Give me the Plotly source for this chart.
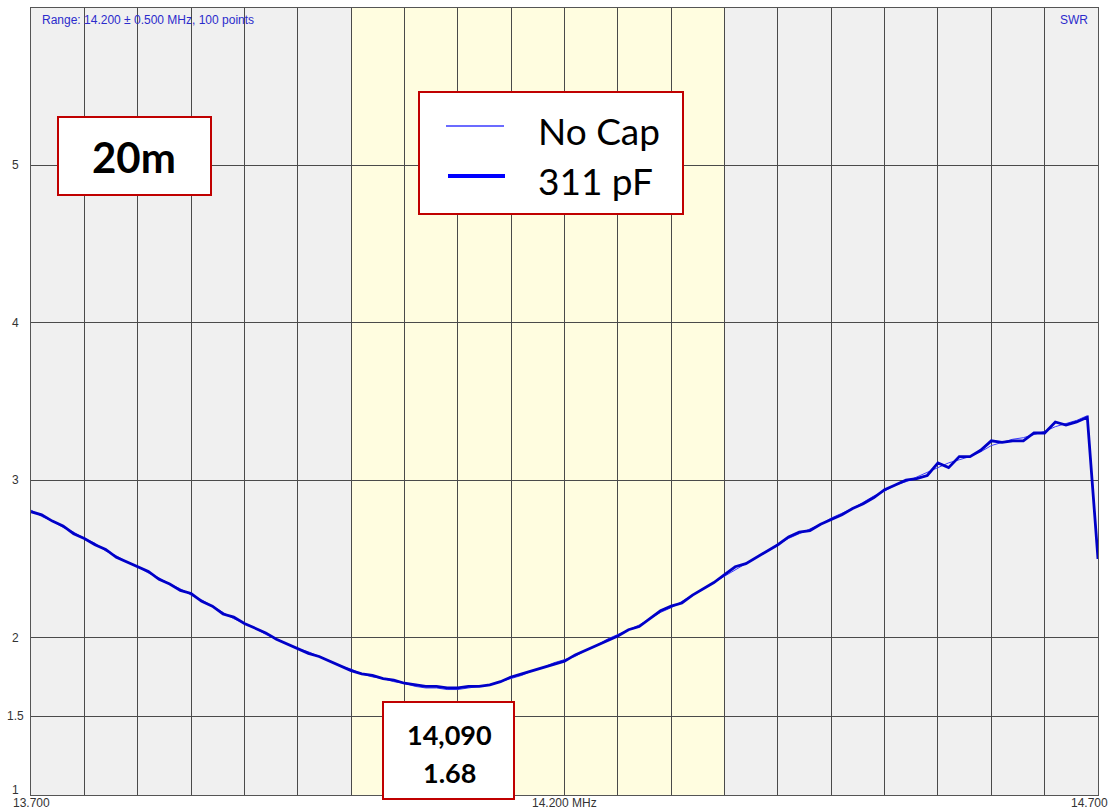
import plotly.graph_objects as go

# Sweep: 14.200 MHz centre, +/- 0.500 MHz, 0.01 MHz steps
freq_mhz = [round(13.70 + 0.01 * i, 2) for i in range(101)]

swr_no_cap = [
    2.81, 2.77, 2.74, 2.70, 2.67, 2.63, 2.60, 2.55, 2.52, 2.48,
    2.45, 2.41, 2.38, 2.34, 2.31, 2.27, 2.24, 2.20, 2.16, 2.12,
    2.09, 2.06, 2.02, 1.99, 1.96, 1.93, 1.91, 1.88, 1.85, 1.82,
    1.80, 1.77, 1.75, 1.74, 1.72, 1.71, 1.69, 1.68, 1.68, 1.67,
    1.67, 1.68, 1.69, 1.70, 1.72, 1.74, 1.76, 1.79, 1.81, 1.84,
    1.86, 1.88, 1.92, 1.95, 1.99, 2.02, 2.05, 2.08, 2.12, 2.16,
    2.19, 2.23, 2.27, 2.31, 2.35, 2.39, 2.43, 2.47, 2.51, 2.55,
    2.59, 2.63, 2.66, 2.69, 2.72, 2.76, 2.79, 2.82, 2.86, 2.90,
    2.93, 2.97, 2.99, 3.02, 3.05, 3.08, 3.11, 3.13, 3.15, 3.18,
    3.22, 3.24, 3.26, 3.27, 3.29, 3.31, 3.34, 3.36, 3.38, 3.41,
    2.51,
]

swr_311pf = [
    2.80, 2.78, 2.74, 2.71, 2.66, 2.63, 2.59, 2.56, 2.51, 2.48,
    2.45, 2.42, 2.37, 2.34, 2.30, 2.28, 2.23, 2.20, 2.15, 2.13,
    2.09, 2.06, 2.03, 1.99, 1.96, 1.93, 1.90, 1.88, 1.85, 1.82,
    1.79, 1.77, 1.76, 1.74, 1.73, 1.71, 1.70, 1.69, 1.69, 1.68,
    1.68, 1.69, 1.69, 1.70, 1.72, 1.75, 1.77, 1.79, 1.81, 1.83,
    1.85, 1.89, 1.92, 1.95, 1.98, 2.01, 2.05, 2.07, 2.12, 2.17,
    2.20, 2.22, 2.27, 2.31, 2.35, 2.40, 2.45, 2.47, 2.51, 2.55,
    2.59, 2.64, 2.67, 2.68, 2.72, 2.75, 2.78, 2.82, 2.85, 2.89,
    2.94, 2.97, 3.00, 3.01, 3.03, 3.11, 3.08, 3.15, 3.15, 3.19,
    3.25, 3.24, 3.25, 3.25, 3.30, 3.30, 3.37, 3.35, 3.37, 3.40,
    2.50,
]

series_names = ["No Cap", "311 pF"]
band_label = "20m"
band_edges_mhz = [14.000, 14.350]

x_grid_vals = [round(13.70 + 0.05 * i, 2) for i in range(21)]
y_grid_vals = [1.5, 2, 3, 4, 5]
x_tick_vals = [13.7, 14.2, 14.7]
x_tick_text = ["13.700", "14.200 MHz", "14.700"]
y_tick_vals = [1, 1.5, 2, 3, 4, 5]
y_tick_text = ["1", "1.5", "2", "3", "4", "5"]

header_left = "Range: 14.200 \u00b1 0.500 MHz, 100 points"
header_right = "SWR"

# ---- page geometry (pixels) ----
FIG_W, FIG_H = 1118, 812
M_L, M_R, M_T, M_B = 31, 20, 8, 17
PW = FIG_W - M_L - M_R
PH = FIG_H - M_T - M_B


def px(x):
    return (x - M_L) / PW


def py(y):
    return (M_T + PH - y) / PH


BOX_RED = "#c00000"
GRID = "#4a4a4a"
AXIS_TXT = "#333333"
HEAD_TXT = "#2b2bcc"
SANS = "Liberation Sans, Arial, sans-serif"
BOX_FONT = "Lato, Noto Sans, sans-serif"

fig = go.Figure()

fig.add_trace(go.Scatter(
    x=freq_mhz, y=swr_no_cap, mode="lines", name=series_names[0],
    line=dict(color="#3a3aff", width=1), showlegend=False,
))
fig.add_trace(go.Scatter(
    x=freq_mhz, y=swr_311pf, mode="lines", name=series_names[1],
    line=dict(color="#0000c8", width=2.8), showlegend=False,
))

shapes = []
# amateur band highlight
shapes.append(dict(
    type="rect", xref="x", yref="paper",
    x0=band_edges_mhz[0], x1=band_edges_mhz[1], y0=0, y1=1,
    fillcolor="#fffde0", line=dict(width=0), layer="below",
))


def box(x0, y0, x1, y1):
    return dict(
        type="rect", xref="paper", yref="paper",
        x0=px(x0), x1=px(x1), y0=py(y1), y1=py(y0),
        fillcolor="white", line=dict(color=BOX_RED, width=2), layer="above",
    )


shapes.append(box(58, 117, 211, 195))      # band label
shapes.append(box(419, 92, 683, 214))      # series key
shapes.append(box(383, 702, 514, 799))     # minimum readout

# series key line samples
shapes.append(dict(type="line", xref="paper", yref="paper",
                   x0=px(446), x1=px(504), y0=py(126), y1=py(126),
                   line=dict(color="#3a3aff", width=1.5)))
shapes.append(dict(type="line", xref="paper", yref="paper",
                   x0=px(448), x1=px(505), y0=py(176), y1=py(176),
                   line=dict(color="#0000ff", width=4)))

annotations = []


def label(text, x, y, size, color="black", family=BOX_FONT, xanchor="center", bold=False):
    if bold:
        text = "<b>" + text + "</b>"
    annotations.append(dict(
        text=text, xref="paper", yref="paper", x=px(x), y=py(y),
        xanchor=xanchor, yanchor="middle", showarrow=False,
        font=dict(family=family, size=size, color=color),
    ))


label(band_label, 134, 157, 42, bold=True)
label(series_names[0], 536, 130, 37, xanchor="left")
label(series_names[1], 536, 180, 37, xanchor="left")

# minimum SWR readout taken from the 311 pF sweep
i_min = min(range(len(swr_311pf)), key=lambda i: swr_311pf[i])
f_khz = freq_mhz[i_min] * 1000
label(f"{f_khz:,.0f}", 449, 734, 27, bold=True)
label(f"{swr_311pf[i_min]:.2f}", 449, 772, 27, bold=True)

label(header_left, 40, 20, 12, color=HEAD_TXT, family=SANS, xanchor="left")
label(header_right, 1090, 20, 12, color=HEAD_TXT, family=SANS, xanchor="right")

# y tick labels on the left margin
for v, t in zip(y_tick_vals, y_tick_text):
    annotations.append(dict(
        text=t, xref="paper", yref="y", x=px(15), y=v,
        yshift=5 if v == 1 else 0,
        xanchor="center", yanchor="middle", showarrow=False,
        font=dict(family=SANS, size=12, color=AXIS_TXT),
    ))

# x tick labels under the plot
for v, t in zip(x_tick_vals, x_tick_text):
    anchor = "right" if v == x_tick_vals[-1] else "center"
    annotations.append(dict(
        text=t, xref="x", yref="paper", x=v, y=py(803),
        xshift=12 if anchor == "right" else 0,
        xanchor=anchor, yanchor="middle", showarrow=False,
        font=dict(family=SANS, size=12, color=AXIS_TXT),
    ))

fig.update_layout(
    width=FIG_W, height=FIG_H,
    margin=dict(l=M_L, r=M_R, t=M_T, b=M_B, pad=0),
    paper_bgcolor="white", plot_bgcolor="#f0f0f0",
    shapes=shapes, annotations=annotations,
    showlegend=False,
)
fig.update_xaxes(
    range=[13.7, 14.7], tickvals=x_grid_vals, showticklabels=False, ticks="",
    showgrid=True, gridcolor=GRID, gridwidth=1, zeroline=False,
    showline=True, linecolor="#555555", linewidth=1, mirror=True,
)
fig.update_yaxes(
    range=[1, 6], tickvals=y_grid_vals, showticklabels=False, ticks="",
    showgrid=True, gridcolor=GRID, gridwidth=1, zeroline=False,
    showline=True, linecolor="#555555", linewidth=1, mirror=True,
)

fig.write_html("out.html")
